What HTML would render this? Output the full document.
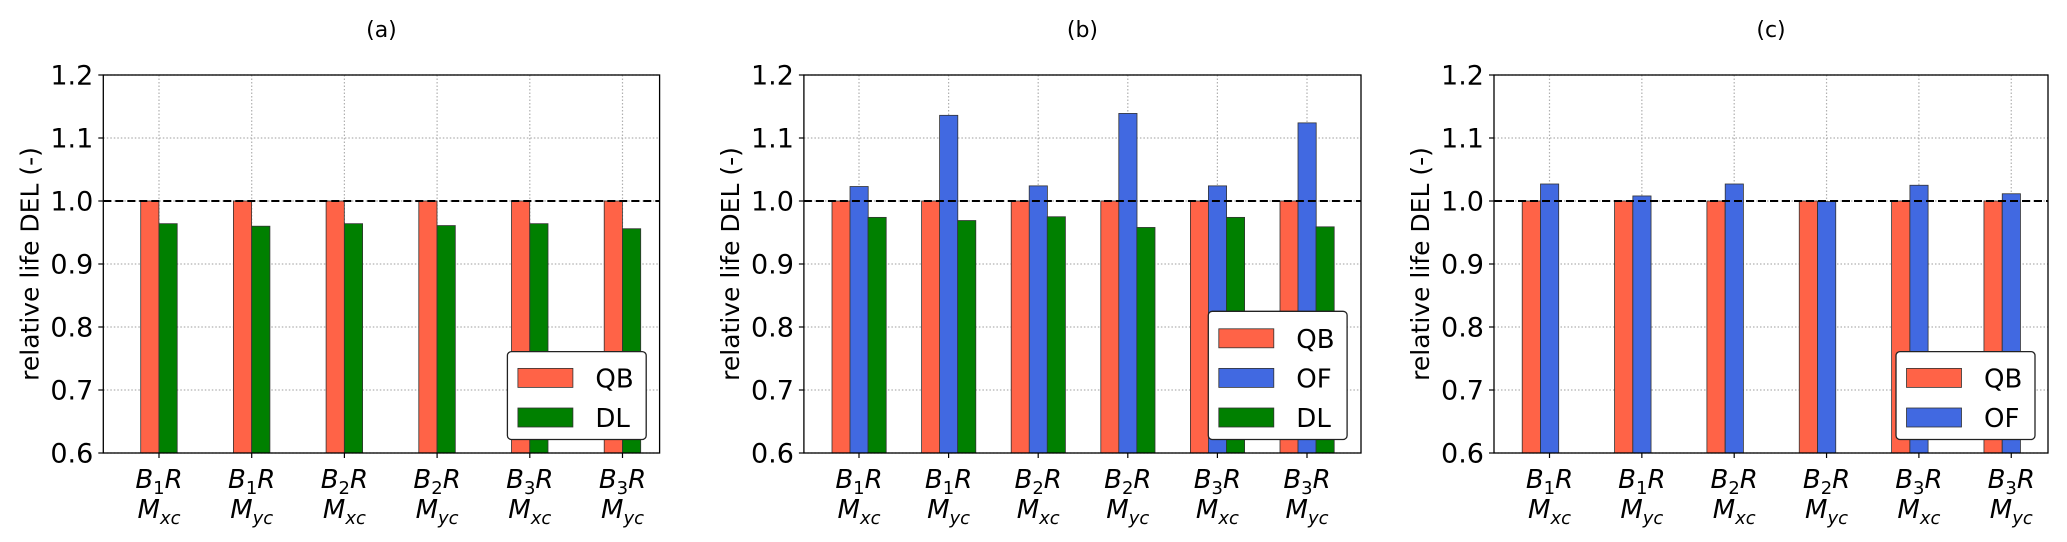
<!DOCTYPE html>
<html><head><meta charset="utf-8">
<style>
html,body{margin:0;padding:0;background:#fff;}
svg{display:block;font-family:"DejaVu Sans","Liberation Sans",sans-serif;}
</style></head>
<body>
<svg id="fig" width="2067" height="542" viewBox="0 0 2067 542" xmlns="http://www.w3.org/2000/svg"></svg>
<script>
const categories = [["B","1","R","xc"],["B","1","R","yc"],["B","2","R","xc"],["B","2","R","yc"],["B","3","R","xc"],["B","3","R","yc"]];
const yTicks = [0.6,0.7,0.8,0.9,1.0,1.1,1.2];
const yTickLabels = ["0.6","0.7","0.8","0.9","1.0","1.1","1.2"];
const qbA = [1,1,1,1,1,1];
const dlA = [0.964,0.960,0.964,0.961,0.964,0.956];
const qbB = [1,1,1,1,1,1];
const ofB = [1.023,1.136,1.024,1.139,1.024,1.124];
const dlB = [0.974,0.969,0.975,0.958,0.974,0.959];
const qbC = [1,1,1,1,1,1];
const ofC = [1.027,1.008,1.027,0.999,1.025,1.0115];
const refLine = 1.0;

const COL = {QB:"#ff6347", OF:"#4169e1", DL:"#008000"};
const NS = "http://www.w3.org/2000/svg";
const fig = document.getElementById('fig');
function el(tag, attrs, parent){const e=document.createElementNS(NS,tag);for(const k in attrs)e.setAttribute(k,attrs[k]);(parent||fig).appendChild(e);return e;}

const panels = [
 {id:"a", title:"(a)", left:103.3, right:659.6, tick0:159, step:92.7, barOffset:[-18.3,0], series:[["QB",qbA],["DL",dlA]], legend:{x0:507.4,x1:646.2,y0:351.6,y1:439.5}},
 {id:"b", title:"(b)", left:803.9, right:1361, tick0:859, step:89.6, barOffset:[-27,-9,9], series:[["QB",qbB],["OF",ofB],["DL",dlB]], legend:{x0:1208.3,x1:1347.1,y0:311.3,y1:439.5}},
 {id:"c", title:"(c)", left:1494, right:2048, tick0:1549.5, step:92.35, barOffset:[-27.3,-9], series:[["QB",qbC],["OF",ofC]], legend:{x0:1896,x1:2035,y0:351.6,y1:439.5}}
];
const TOP=75, BOT=453, YMIN=0.6, YMAX=1.2, BW=18.2;
function yScale(v){return BOT-(v-YMIN)/(YMAX-YMIN)*(BOT-TOP);}

panels.forEach(p=>{
  const g=el('g',{});
  
  
  const xScale=i=>p.tick0+i*p.step;
  // grid
  yTicks.forEach((t,i)=>{
    const y=yScale(t);
    const gl=el('line',{x1:p.left,x2:p.right,y1:y,y2:y,stroke:'#b0b0b0','stroke-width':1.2,'stroke-dasharray':'1.5,2'},g);
    
    
    el('line',{x1:p.left-5,x2:p.left,y1:y,y2:y,stroke:'#000','stroke-width':1.2},g);
    const tl=el('text',{x:p.left-10,y:y+9.5,'text-anchor':'end','font-size':27,fill:'#000'},g);
    tl.textContent=yTickLabels[i];
    
    
  });
  categories.forEach((c,i)=>{
    const x=xScale(i);
    const gl=el('line',{x1:x,x2:x,y1:TOP,y2:BOT,stroke:'#b0b0b0','stroke-width':1.2,'stroke-dasharray':'1.5,2'},g);
    
    
    el('line',{x1:x,x2:x,y1:BOT,y2:BOT+5,stroke:'#000','stroke-width':1.2},g);
    const t1=el('text',{x:x,y:488,'text-anchor':'middle','font-size':26,'font-style':'italic'},g);
    t1.innerHTML=c[0]+'<tspan font-size="18" dy="6" font-style="normal">'+c[1]+'</tspan><tspan dy="-6">'+c[2]+'</tspan>';
    
    
    const t2=el('text',{x:x,y:518,'text-anchor':'middle','font-size':26,'font-style':'italic'},g);
    t2.innerHTML='M<tspan font-size="18" dy="6">'+c[3]+'</tspan>';
    
    
  });
  // bars
  p.series.forEach((s,si)=>{
    s[1].forEach((v,i)=>{
      const x=xScale(i)+p.barOffset[si];
      const y=yScale(v);
      const r=el('rect',{x:x,y:y,width:BW,height:BOT-y,fill:COL[s[0]],stroke:'#333','stroke-width':0.8},g);
      
      
    });
  });
  // ref line
  const ry=yScale(refLine);
  const rl=el('line',{x1:p.left,x2:p.right,y1:ry,y2:ry,stroke:'#000','stroke-width':2,'stroke-dasharray':'8,4'},g);
  
  
  // axes frame
  const fr=el('rect',{x:p.left,y:TOP,width:p.right-p.left,height:BOT-TOP,fill:'none',stroke:'#000','stroke-width':1.3},g);
  
  
  // title
  const tt=el('text',{x:(p.left+p.right)/2,y:37,'text-anchor':'middle','font-size':22},g);
  tt.textContent=p.title;
  
  
  // y label
  const yl=el('text',{x:0,y:0,'text-anchor':'middle','font-size':25,transform:'translate('+(p.left-65)+','+((TOP+BOT)/2)+') rotate(-90)'},g);
  yl.textContent='relative life DEL (-)';
  
  
  // legend
  const L=p.legend;
  const lg=el('g',{},g);
  
  
  el('rect',{x:L.x0,y:L.y0,width:L.x1-L.x0,height:L.y1-L.y0,rx:4,fill:'#fff',stroke:'#222','stroke-width':1.3},lg);
  const n=p.series.length;
  const rowH=39.6;
  const firstY=L.y1-22-(n-1)*rowH;
  p.series.forEach((s,si)=>{
    const cy=firstY+si*rowH;
    const e=el('g',{},lg);
    
    
    el('rect',{x:L.x0+10.5,y:cy-9.5,width:55,height:19,fill:COL[s[0]],stroke:'#333','stroke-width':0.8},e);
    const t=el('text',{x:L.x0+88,y:cy+9.5,'font-size':26},e);
    t.textContent=s[0];
  });
});
</script>
</body></html>
